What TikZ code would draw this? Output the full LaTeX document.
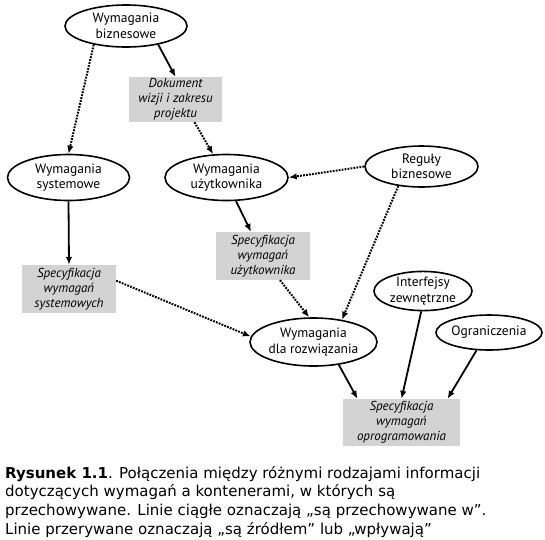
\documentclass[tikz,border=0pt]{standalone}
\usepackage{fontspec}
\usepackage{xcolor}
\definecolor{boxgray}{RGB}{211,211,211}
\newfontfamily\diagfont{PT Sans}
\newfontfamily\capfont{DejaVu Sans}
\usepackage{tikz}
\usetikzlibrary{arrows.meta}
\usetikzlibrary{shapes.geometric}
\tikzset{
    common/.style={inner sep=0pt, align=center, font=\diagfont\fontsize{13.5}{15.5}\selectfont},
    req/.style={common, draw, ellipse, line width=1.6pt},
    spec/.style={common, rectangle, fill=boxgray, font=\diagfont\itshape\fontsize{13}{15}\selectfont},
    storedin/.style={-{Latex[length=8pt, width=6.5pt]}, line width=1.8pt},
    sourceof/.style={-{Latex[length=8pt, width=6.5pt]}, line width=2pt, dash pattern=on 1.8pt off 1.2pt}
}

\begin{document}
\begin{tikzpicture}[x=1pt, y=-1pt]
      \useasboundingbox (0,0) rectangle (545,539);

      % wymagania
      \node[req, minimum width=122pt, minimum height=42pt] (biz) at (126,26) {Wymagania\\biznesowe};
      \node[req, minimum width=122pt, minimum height=46pt] (sys) at (68.5,177.5) {Wymagania\\systemowe};
      \node[req, minimum width=123pt, minimum height=46pt] (usr) at (226.5,177.5) {Wymagania\\użytkownika};
      \node[req, minimum width=113pt, minimum height=41pt] (reg) at (421.5,166.5) {Reguły\\biznesowe};
      \node[req, minimum width=98pt, minimum height=36pt] (int) at (423,291) {Interfejsy\\zewnętrzne};
      \node[req, minimum width=102pt, minimum height=35pt] (ogr) at (489,332.5) {Ograniczenia};
      \node[req, minimum width=119pt, minimum height=48pt] (rozw) at (313.5,342) {Wymagania\\dla rozwiązania};

      % dokumenty
      \node[spec, minimum width=93pt, minimum height=45pt] (dok) at (175.5,99.5) {Dokument\\wizji i zakresu\\projektu};
      \node[spec, minimum width=94pt, minimum height=48pt] (su) at (263,256) {Specyfikacja\\wymagań\\użytkownika};
      \node[spec, minimum width=94pt, minimum height=48pt] (ss) at (69,289) {Specyfikacja\\wymagań\\systemowych};
      \node[spec, minimum width=117pt, minimum height=47pt] (so) at (401.5,422.5) {Specyfikacja\\wymagań\\oprogramowania};

      \draw[storedin] (biz.-30) -- (dok.north);
      \draw[sourceof] (biz.-150) -- (sys.north);
      \draw[sourceof] ([xshift=19pt]dok.south) -- (usr.120);
      \draw[sourceof] (reg.west) -- (usr.east);
      \draw[storedin] (usr.-68) -- ([xshift=-12pt]su.north);
      \draw[storedin] (sys.south) -- (ss.north);
      \draw[sourceof] (ss.10) -- (rozw.175);
      \draw[sourceof] ([xshift=17pt]su.south) -- (rozw.100);
      \draw[sourceof] (reg.-140) -- (rozw.38);
      \draw[storedin] (rozw.-42) -- ([xshift=-44pt]so.north);
      \draw[storedin] (int.-95) -- (so.north);
      \draw[storedin] (ogr.-125) -- ([xshift=46pt]so.north);

      \node[anchor=north west, inner sep=0pt, align=left, font=\capfont\fontsize{15}{18.7}\selectfont] (caption) at (5,466)
          {\textbf{Rysunek 1.1}. Połączenia między różnymi rodzajami informacji\\
           dotyczących wymagań a kontenerami, w których są\\
           przechowywane. Linie ciągłe oznaczają „są przechowywane w”.\\
           Linie przerywane oznaczają „są źródłem” lub „wpływają”};
\end{tikzpicture}
\end{document}
